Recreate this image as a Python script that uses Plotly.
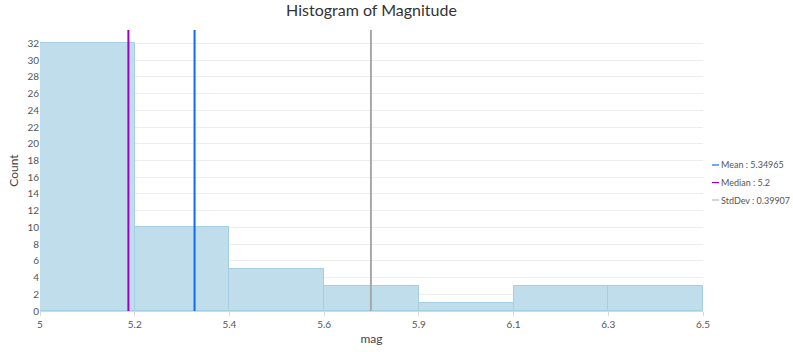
import plotly.graph_objects as go

# Data
bin_edges = [5.0, 5.2143, 5.4286, 5.6429, 5.8571, 6.0714, 6.2857, 6.5]
bin_labels = ["5", "5.2", "5.4", "5.6", "5.9", "6.1", "6.3", "6.5"]
counts = [32, 10, 5, 3, 1, 3, 3]
mean_val = 5.34965
median_val = 5.2
std_val = 0.39907
y_max = 33.6

centers = [(a + b) / 2 for a, b in zip(bin_edges[:-1], bin_edges[1:])]
widths = [b - a for a, b in zip(bin_edges[:-1], bin_edges[1:])]

FONT = "Lato"

fig = go.Figure()
fig.add_trace(go.Bar(
    x=centers, y=counts, width=widths,
    marker=dict(color="rgb(192,221,235)", line=dict(color="rgb(165,205,228)", width=1)),
    showlegend=False, hoverinfo="x+y",
))

lines = [
    ("Median : 5.2", median_val, "#9b00c9"),
    ("Mean : 5.34965", mean_val, "#0b6cf0"),
    ("StdDev : 0.39907", mean_val + std_val, "#a8a8a8"),
]
for name, v, c in lines:
    fig.add_trace(go.Scatter(x=[v, v], y=[0, y_max], mode="lines",
                             line=dict(color=c, width=2), name=name, showlegend=False))

legend_items = [
    ("Mean : 5.34965", "#0b6cf0"),
    ("Median : 5.2", "#9b00c9"),
    ("StdDev : 0.39907", "#b8b8b8"),
]
ys = [0.5196, 0.457, 0.395]
for (txt, c), yy in zip(legend_items, ys):
    fig.add_shape(type="line", xref="paper", yref="paper", x0=1.0136, x1=1.0241, y0=yy, y1=yy,
                  line=dict(color=c, width=1.2))
    fig.add_annotation(xref="paper", yref="paper", x=1.0255, y=yy, xanchor="left", yanchor="middle",
                       showarrow=False, text=txt, borderpad=0,
                       font=dict(size=9, color="#555", family=FONT))

fig.update_layout(
    width=793, height=352,
    margin=dict(l=40, r=90, t=30, b=41),
    paper_bgcolor="white", plot_bgcolor="white",
    title=dict(text="Histogram of Magnitude", x=0.5, xanchor="center", xref="paper",
               yref="container", y=1 - 10 / 352, yanchor="middle",
               font=dict(size=16, color="#333", family=FONT)),
    bargap=0,
    font=dict(family=FONT, color="#555", size=10),
    xaxis=dict(range=[bin_edges[0], bin_edges[-1]], tickvals=bin_edges, ticktext=bin_labels,
               showgrid=False, zeroline=False, showline=True, linecolor="#d8d8d8",
               ticks="outside", ticklen=4, tickcolor="#d8d8d8", automargin=False,
               tickfont=dict(size=10, color="#555"),
               title=dict(text="mag", font=dict(size=12, color="#444"), standoff=5)),
    yaxis=dict(range=[0, y_max], dtick=2, tick0=0, showgrid=True, gridcolor="#ededed",
               zeroline=False, showline=False, automargin=False,
               tickfont=dict(size=10, color="#555"),
               title=dict(text="Count", font=dict(size=12, color="#444"), standoff=6)),
)

fig.write_html("out.html")
